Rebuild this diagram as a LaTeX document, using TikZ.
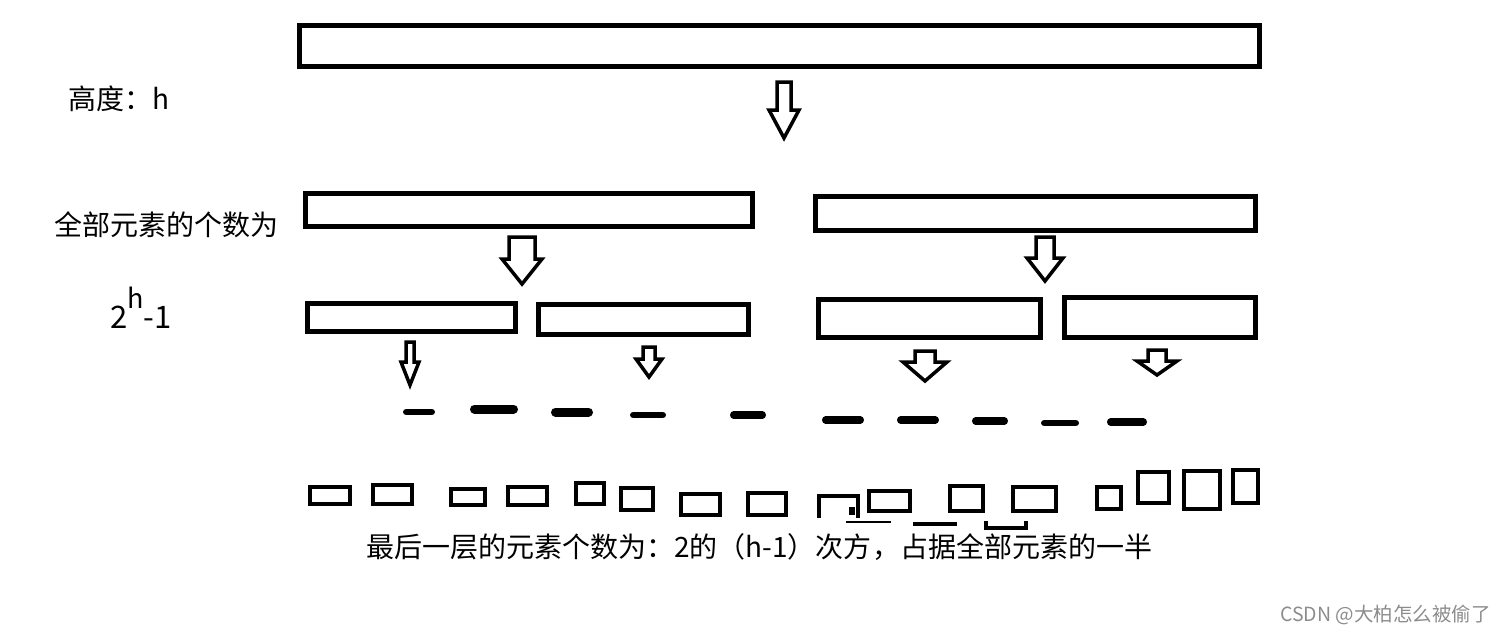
\documentclass[tikz,border=0pt]{standalone}
\usepackage{fontspec}
\setmainfont{Noto Sans CJK SC}
\usepackage{tikz}

\newcommand{\blockarrow}[6]{% x, top, shaft half, head base, head half, tip
\draw[arr] (#1-#3,#2) -- (#1+#3,#2) -- (#1+#3,#4) -- (#1+#5,#4) -- (#1,#6) -- (#1-#5,#4) -- (#1-#3,#4) -- cycle;}

\begin{document}
\begin{tikzpicture}
[
x=1pt, y=-1pt,
box/.style={draw, line width=5pt},
small box/.style={draw, line width=4.5pt},
arr/.style={draw, line width=3.5pt, line join=miter},
txt/.style={anchor=base west, inner sep=0pt, font=\fontsize{28}{32}\selectfont},
watermark/.style={anchor=base west, inner sep=0pt, font=\fontsize{19.5}{22}\selectfont, text=black!45}
]
\useasboundingbox (0,0) rectangle (1503,635);

% levels
\draw[box] (299,25) rectangle (1259,66);
\draw[box] (305,193) rectangle (752,226);
\draw[box] (815,196) rectangle (1255,230);
\draw[box] (307,303) rectangle (515,331);
\draw[box] (538,304) rectangle (748,334);
\draw[box] (818,299) rectangle (1040,337);
\draw[box] (1064,297) rectangle (1255,337);

\blockarrow{784}{82}{7}{110}{15}{138}
\blockarrow{522}{237}{13}{259}{20}{284}
\blockarrow{1045}{237}{9}{258}{18}{281}
\blockarrow{410}{342}{4}{362}{9}{385}
\blockarrow{649}{347}{6}{359}{13}{377}
\blockarrow{925}{351}{10}{362}{22}{381}
\blockarrow{1157}{350}{9}{361}{20}{375}

% dashes
\foreach \cx/\cy/\rx/\ry in {419/412/16/3.2, 494/409/24/4.5, 572/412/21/4.5, 648/415/18/3.2,
  748/415/18/3.6, 843/420/21/3.6, 918/420/21/3.6, 990/421/18/3.6, 1060/423/19/3.2, 1127/422/20/3.6}
  \draw[line width=2*\ry pt, line cap=round] (\cx-\rx+\ry,\cy) -- (\cx+\rx-\ry,\cy);

% last level
\foreach \xa/\ya/\xb/\yb in {310/487/350/504, 373/485/412/504, 451/489/485/505, 508/487/547/505,
  576/483/604/504, 621/488/653/510, 681/494/720/515, 748/493/786/515, 869/491/910/511,
  950/486/983/511, 1013/487/1056/511, 1097/487/1121/509, 1138/472/1169/503,
  1184/471/1220/509, 1233/470/1258/503}
  \draw[small box] (\xa,\ya) rectangle (\xb,\yb);
\draw[small box] (819,518) -- (819,496) -- (858,496) -- (858,518);
\fill (849,507) rectangle (855,515);
\draw[line width=1.2pt] (846,522) -- (891,522);
\draw[line width=4pt] (913,524) -- (957,524);
\draw[line width=4pt] (986,521) -- (986,528) -- (1026,528) -- (1026,521);

% texts
\node[txt] (height) at (68,109) {高度：h};
\node[txt] (total) at (54,235) {全部元素的个数为};
\node[txt, font=\fontsize{31}{36}\selectfont] (count) at (110,328) {2\raisebox{0.62em}{\fontsize{27}{32}\selectfont h}-1};
\node[txt] (last) at (366,557) {最后一层的元素个数为：2的（h-1）次方，占据全部元素的一半};
\node[watermark] (csdn) at (1280,621) {CSDN @大柏怎么被偷了};
\end{tikzpicture}
\end{document}
